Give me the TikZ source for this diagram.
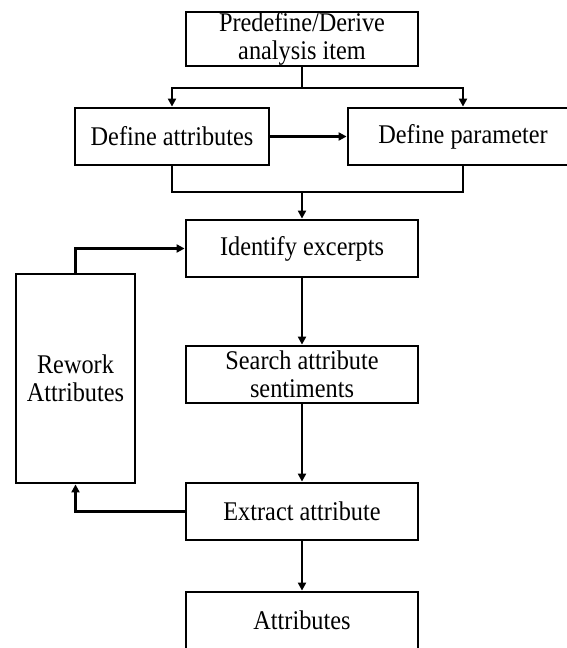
\documentclass[tikz,border=0pt]{standalone}
\usepackage{fontspec}
\setmainfont{Liberation Serif}[FakeStretch=0.9]
\usetikzlibrary{arrows.meta}

\begin{document}
\begin{tikzpicture}[x=1pt,y=-1pt,
    every node/.style={font=\fontsize{27}{28}\selectfont},
    box/.style={draw=black, line width=2.8pt, fill=white, inner sep=0pt,
        align=center, minimum width=232pt, minimum height=56pt},
    link/.style={draw=black, line width=2.8pt},
    arr/.style={link, -{Triangle[length=8pt,width=8pt]}}]
  \useasboundingbox (0,0) rectangle (567,648);
  \fill[white] (0,0) rectangle (567,648);

  % boxes
  \node[box, minimum height=54pt] (item) at (302,39) {Predefine/Derive\\analysis item};
  \node[box, minimum width=194pt, minimum height=57pt] (defattr) at (172,136.5) {Define attributes};
  \node[box, minimum width=230pt, minimum height=57pt] (defpar) at (463,136.5) {Define parameter};
  \node[box, minimum height=57pt] (ident) at (302,248.5) {Identify excerpts};
  \node[box, minimum width=119pt, minimum height=209pt] (rework) at (75.5,378.5) {Rework\\Attributes};
  \node[box, minimum height=57pt] (search) at (302,374.5) {Search attribute\\sentiments};
  \node[box, minimum height=57pt] (extract) at (302,511.5) {Extract attribute};
  \node[box, minimum height=57pt] (result) at (302,620.5) {Attributes};

  % split below the first step
  \coordinate (split) at (302,88);
  \draw[link] (item.south) -- (split);
  \draw[arr] (split) -| (defattr.north);
  \draw[arr] (split) -| (defpar.north);
  \draw[arr] (defattr.east) -- (defpar.west);

  % merge into the excerpt step
  \coordinate (merge) at (302,192);
  \draw[link] (defattr.south) |- (merge) -| (defpar.south);
  \draw[arr] (merge) -- (ident.north);

  % main chain
  \draw[arr] (ident.south) -- (search.north);
  \draw[arr] (search.south) -- (extract.north);
  \draw[arr] (extract.south) -- (result.north);

  % rework loop
  \draw[arr] (extract.west) -| (rework.south);
  \draw[arr] (rework.north) |- (ident.west);
\end{tikzpicture}
\end{document}
